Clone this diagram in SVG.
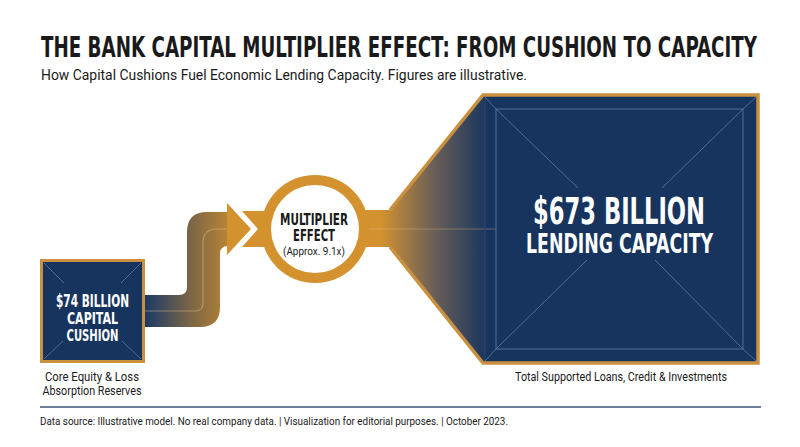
<svg xmlns="http://www.w3.org/2000/svg" width="800" height="447" viewBox="0 0 800 447">
<defs>
<style>
.hd{font-family:"Liberation Sans Narrow","DejaVu Sans Condensed","Roboto",sans-serif;font-weight:bold}
.bd{font-family:"Roboto","Liberation Sans",sans-serif}
.wt{fill:#ffffff}
.dk{fill:#1a1a1a}
.ln{stroke:#4f6e9c;stroke-width:1;fill:none}
.gold{fill:#d4922f}
</style>
<linearGradient id="gS" gradientUnits="userSpaceOnUse" x1="145" y1="0" x2="245" y2="0">
<stop offset="0" stop-color="#1c3a66"/>
<stop offset="0.45" stop-color="#7a6546"/>
<stop offset="1" stop-color="#d4922f"/>
</linearGradient>
<linearGradient id="gF" gradientUnits="userSpaceOnUse" x1="380" y1="0" x2="488" y2="0">
<stop offset="0" stop-color="#d4922f"/>
<stop offset="0.5" stop-color="#6a5f58"/>
<stop offset="1" stop-color="#17345e"/>
</linearGradient>
</defs>
<rect width="800" height="447" fill="#ffffff"/>
<g id="title">
<text class="hd dk" x="41" y="57" font-size="28" textLength="716" lengthAdjust="spacingAndGlyphs">THE BANK CAPITAL MULTIPLIER EFFECT: FROM CUSHION TO CAPACITY</text>
<text class="bd dk" x="41" y="80" font-size="14" textLength="486" lengthAdjust="spacingAndGlyphs">How Capital Cushions Fuel Economic Lending Capacity. Figures are illustrative.</text>
</g>
<g id="connectors">
<path d="M 145 295 H 179 Q 187 295 187 287 V 232 Q 187 212 207 212 H 228 V 246 Q 220 246 220 254 V 307 Q 220 327 200 327 H 145 Z" fill="url(#gS)"/>
<path d="M 145 311 H 195 Q 203 311 203 303 V 243 Q 203 229 217 229 H 236" fill="none" stroke="#e8c690" stroke-opacity="0.45" stroke-width="1.2"/>
<polygon points="227,203 251,229 227,255" class="gold"/>
<polygon points="242,211 285,211 285,247 242,247 258,229" class="gold"/>
<path d="M 350 210 H 390 L 483 95 H 758 V 363 H 483 L 390 247 H 350 Z" fill="url(#gF)"/>
<line x1="355" y1="229" x2="496" y2="229" stroke="#e8c690" stroke-opacity="0.35" stroke-width="1"/>
</g>
<g id="cushion">
<rect x="41.5" y="260.5" width="102" height="101" fill="#17345e" stroke="#c99040" stroke-width="3"/>
<path class="ln" d="M44 263 L64 283 M141 263 L121 283 M44 359 L63 341 M141 359 L122 341"/>
<text class="hd wt" text-anchor="middle" x="92.5" y="307" font-size="17" textLength="73" lengthAdjust="spacingAndGlyphs">$74 BILLION</text>
<text class="hd wt" text-anchor="middle" x="92.5" y="324" font-size="16.5" textLength="51" lengthAdjust="spacingAndGlyphs">CAPITAL</text>
<text class="hd wt" text-anchor="middle" x="92.5" y="341" font-size="16.5" textLength="52" lengthAdjust="spacingAndGlyphs">CUSHION</text>
<text class="bd dk" text-anchor="middle" x="92" y="381" font-size="12" textLength="94" lengthAdjust="spacingAndGlyphs">Core Equity &amp; Loss</text>
<text class="bd dk" text-anchor="middle" x="92" y="395" font-size="12" textLength="99" lengthAdjust="spacingAndGlyphs">Absorption Reserves</text>
</g>
<g id="multiplier">
<circle cx="315" cy="229" r="54" class="gold"/>
<circle cx="315" cy="229" r="44" fill="#ffffff"/>
<text class="hd dk" text-anchor="middle" x="314" y="225" font-size="16" textLength="68" lengthAdjust="spacingAndGlyphs">MULTIPLIER</text>
<text class="hd dk" text-anchor="middle" x="314" y="241" font-size="16" textLength="42" lengthAdjust="spacingAndGlyphs">EFFECT</text>
<text class="bd dk" text-anchor="middle" x="314" y="255" font-size="11" textLength="62" lengthAdjust="spacingAndGlyphs">(Approx. 9.1x)</text>
</g>
<g id="capacity">
<path d="M 390 210 L 483 95 H 758 V 363 H 483 L 390 247" fill="none" stroke="#c99040" stroke-width="3.5" stroke-linejoin="miter"/>
<line x1="485" y1="97" x2="485" y2="361" stroke="#2a4470" stroke-width="1"/>
<rect x="496" y="109" width="247" height="240" class="ln"/>
<path class="ln" d="M485 97 L496 109 M756 97 L743 109 M756 361 L743 349 M485 361 L496 349 M496 109 L578 188 M743 109 L662 188 M496 349 L587 260 M743 349 L655 260"/>
<text class="hd wt" text-anchor="middle" x="619" y="224" font-size="37" textLength="172" lengthAdjust="spacingAndGlyphs">$673 BILLION</text>
<text class="hd wt" text-anchor="middle" x="619.5" y="253" font-size="27" textLength="187" lengthAdjust="spacingAndGlyphs">LENDING CAPACITY</text>
<text class="bd dk" text-anchor="middle" x="621" y="381" font-size="12" textLength="212" lengthAdjust="spacingAndGlyphs">Total Supported Loans, Credit &amp; Investments</text>
</g>
<g id="footer">
<line x1="40" y1="407" x2="761" y2="407" stroke="#3d5678" stroke-width="1.5"/>
<text class="bd dk" x="40" y="425" font-size="11" textLength="468" lengthAdjust="spacingAndGlyphs">Data source: Illustrative model. No real company data.  |  Visualization for editorial purposes.  |  October 2023.</text>
</g>
</svg>
